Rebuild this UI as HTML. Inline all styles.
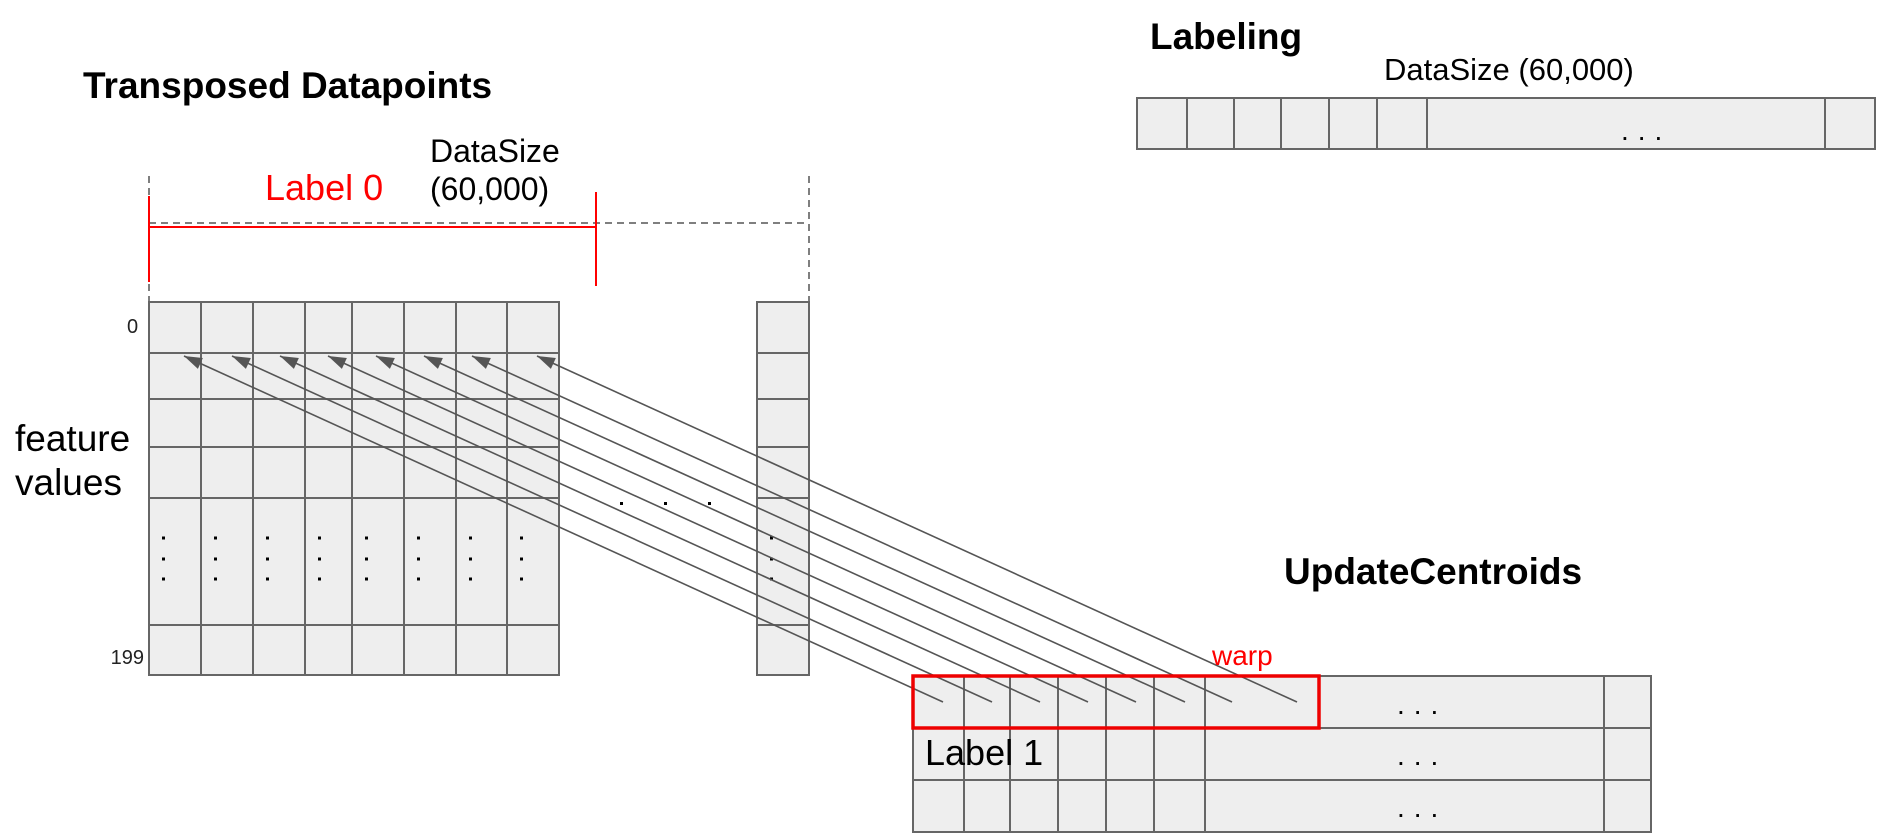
<!DOCTYPE html>
<html><head><meta charset="utf-8"><style>
html,body{margin:0;padding:0;background:#fff;}
svg{display:block;font-family:"Liberation Sans",Arial,sans-serif;}
</style></head><body>
<svg id="s" width="1883" height="838" viewBox="0 0 1883 838">
<defs><marker id="ah" markerWidth="20" markerHeight="20" refX="0" refY="6" orient="auto" markerUnits="userSpaceOnUse" viewBox="0 0 20 12"><path d="M0,6 L18,0 L18,12 Z" fill="#555"/></marker></defs>
<text x="83" y="98" font-size="37" font-weight="bold">Transposed Datapoints</text>
<text x="430" y="162" font-size="32">DataSize</text>
<text x="430" y="200" font-size="32">(60,000)</text>
<text x="265" y="200" font-size="36" fill="#f00">Label 0</text>
<g stroke="#555" stroke-width="1.5" stroke-dasharray="7,5" fill="none">
<line x1="149" y1="176" x2="149" y2="302"/><line x1="809" y1="176" x2="809" y2="302"/><line x1="149" y1="223" x2="809" y2="223"/></g>
<g stroke="#f00" stroke-width="2">
<line x1="149" y1="196" x2="149" y2="282"/><line x1="596" y1="192" x2="596" y2="286"/><line x1="149" y1="227" x2="596" y2="227"/></g>
<g id="leftgrid"></g>
<text x="127" y="333" font-size="20" fill="#222">0</text>
<text x="144" y="664" font-size="20" fill="#222" text-anchor="end">199</text>
<text x="15" y="451" font-size="37">feature</text>
<text x="15" y="495" font-size="37">values</text>
<g fill="#000"><rect x="620" y="502" width="3" height="3"/><rect x="664" y="502" width="3" height="3"/><rect x="708" y="502" width="3" height="3"/></g>
<text x="1150" y="49" font-size="37" font-weight="bold">Labeling</text>
<text x="1384" y="80" font-size="31">DataSize (60,000)</text>
<g id="labgrid"></g>
<text x="1284" y="584" font-size="37" font-weight="bold">UpdateCentroids</text>
<g id="botgrid"></g>
<text x="925" y="765" font-size="36">Label 1</text>
<g id="arrows"></g>
<rect x="913" y="676" width="406" height="52" fill="none" stroke="#e00" stroke-width="3.5"/>
<text x="1212" y="665" font-size="28" fill="#f00">warp</text>
</svg>
<script>
const leftCols=[149,201,253,305,352,404,456,507,559];
const leftRows=[302,353,399,447,498,625,675];
const dotRows=[538,559,579];
const labCols=[1137,1187,1234,1281,1329,1377,1427,1825,1875];
const botCols=[913,964,1010,1058,1106,1154,1205,1604,1651];
const botRows=[676,728,780,832];
const arrowStartX=[184,232,280,328,376,424,472,537];
const arrowEndX=[943,992,1040,1088,1136,1185,1232,1297];
const NS='http://www.w3.org/2000/svg';
function mk(p,t,a){const e=document.createElementNS(NS,t);for(const k in a)e.setAttribute(k,a[k]);p.appendChild(e);return e;}
function grid(g,cols,rows,name){
  const x0=cols[0],x1=cols[cols.length-1],y0=rows[0],y1=rows[rows.length-1];
  const bg=mk(g,'rect',{x:x0,y:y0,width:x1-x0,height:y1-y0,fill:'#eee',stroke:'#666','stroke-width':2});
  
  
  cols.slice(1,-1).forEach(x=>{const l=mk(g,'line',{x1:x,y1:y0,x2:x,y2:y1,stroke:'#666','stroke-width':2});
    
    });
  rows.slice(1,-1).forEach(y=>{const l=mk(g,'line',{x1:x0,y1:y,x2:x1,y2:y,stroke:'#666','stroke-width':2});
    
    });
}
const lg=document.getElementById('leftgrid');
grid(lg,leftCols,leftRows,'datapoints');
grid(lg,[757,809],leftRows,'last-column');
leftCols.slice(0,-1).concat([757]).forEach(x=>dotRows.forEach(y=>{const d=mk(lg,'rect',{x:x+13,y:y-1.5,width:3,height:3,fill:'#000'});
  
  }));
const lab=document.getElementById('labgrid');
grid(lab,labCols,[98,149],'labeling');
const t=mk(lab,'text',{x:1621,y:140,'font-size':28,'letter-spacing':'9'});t.textContent='...';


const bot=document.getElementById('botgrid');
grid(bot,botCols,botRows,'centroids');
[714,765,817].forEach(y=>{const e=mk(bot,'text',{x:1397,y:y,'font-size':28,'letter-spacing':'9'});e.textContent='...';
  
  });
const ar=document.getElementById('arrows');
arrowStartX.forEach((x,i)=>{const l=mk(ar,'line',{x1:x,y1:356,x2:arrowEndX[i],y2:702,stroke:'#555','stroke-width':1.6,'marker-start':'url(#ah)'});
  
  });
</script>
</body></html>
